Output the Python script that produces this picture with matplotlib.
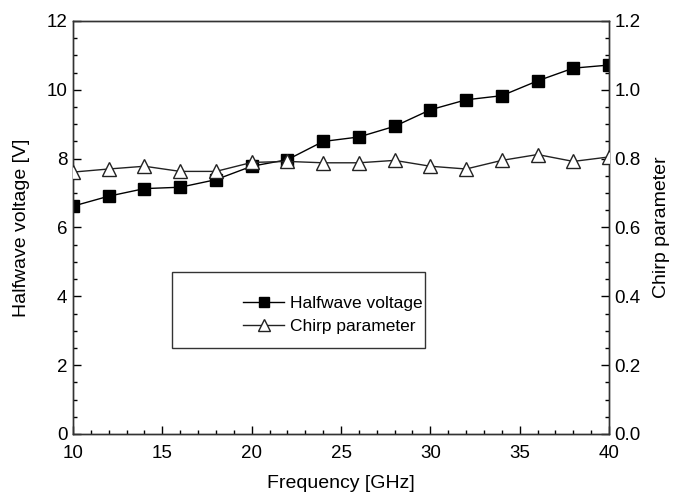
import matplotlib
matplotlib.use("Agg")
import matplotlib.pyplot as plt
from matplotlib.patches import Rectangle
from matplotlib.ticker import MultipleLocator

plt.rcParams['font.family'] = ['Liberation Sans', 'DejaVu Sans']

freq = [10, 12, 14, 16, 18, 20, 22, 24, 26, 28, 30, 32, 34, 36, 38, 40]
halfwave = [6.62, 6.91, 7.13, 7.17, 7.39, 7.78, 7.97, 8.50, 8.63, 8.94,
            9.42, 9.71, 9.83, 10.26, 10.63, 10.72]
chirp = [0.761, 0.770, 0.778, 0.763, 0.763, 0.789, 0.792, 0.788, 0.788,
         0.795, 0.778, 0.770, 0.795, 0.812, 0.792, 0.805]

W, H = 675, 495
fig = plt.figure(figsize=(W / 100, H / 100), dpi=100)
ax = fig.add_axes([73 / W, 1 - 434 / H, (609 - 73) / W, (434 - 21) / H])
ax2 = ax.twinx()

l1, = ax.plot(freq, halfwave, '-', color='black', lw=1.0, marker='s',
              markersize=8, markerfacecolor='black', markeredgecolor='black',
              label='Halfwave voltage', zorder=3)
l2, = ax2.plot(freq, chirp, '-', color='#222222', lw=1.0, marker='^',
               markersize=10, markerfacecolor='white', markeredgecolor='#222222',
               label='Chirp parameter', zorder=3)

ax.set_xlim(10, 40)
ax.set_ylim(0, 12)
ax2.set_ylim(0, 1.2)
ax.xaxis.set_major_locator(MultipleLocator(5))
ax.xaxis.set_minor_locator(MultipleLocator(1))
ax.yaxis.set_major_locator(MultipleLocator(2))
ax.yaxis.set_minor_locator(MultipleLocator(0.5))
ax2.yaxis.set_minor_locator(MultipleLocator(0.05))
ax2.set_yticks([0.0, 0.2, 0.4, 0.6, 0.8, 1.0, 1.2])
ax2.set_yticklabels(['0.0', '0.2', '0.4', '0.6', '0.8', '1.0', '1.2'])

ax.tick_params(axis='x', which='major', direction='in', length=6, width=1,
               labelsize=13.5, pad=8, top=False)
ax.tick_params(axis='y', which='major', direction='in', length=6, width=1,
               labelsize=13.5, pad=4, right=False)
ax.tick_params(axis='both', which='minor', direction='in', length=3, width=1,
               top=False, right=False)
ax2.tick_params(axis='y', which='major', direction='in', length=6, width=1,
                labelsize=13.5, pad=4)
ax2.tick_params(axis='y', which='minor', direction='in', length=3, width=1)

for a in (ax, ax2):
    for s in a.spines.values():
        s.set_linewidth(1.0)
        s.set_color('#333333')

ax.set_xlabel('Frequency [GHz]', fontsize=14, labelpad=9)
ax.set_ylabel('Halfwave voltage [V]', fontsize=14, labelpad=12)
ax2.set_ylabel('Chirp parameter', fontsize=14, labelpad=9)

# legend box
fig.patches.append(Rectangle((172 / W, 1 - 348 / H), (425 - 172) / W, (348 - 272) / H,
                             transform=fig.transFigure, fill=False,
                             edgecolor='#333333', lw=1.0, zorder=5))
leg = fig.legend(handles=[l1, l2], loc='upper left',
                 bbox_to_anchor=(234 / W, 1 - 287 / H), frameon=False,
                 fontsize=12.5, handlelength=2.4, handletextpad=0.35,
                 labelspacing=0.45, borderpad=0, markerscale=0.85)

fig.savefig('out.png', dpi=100)
